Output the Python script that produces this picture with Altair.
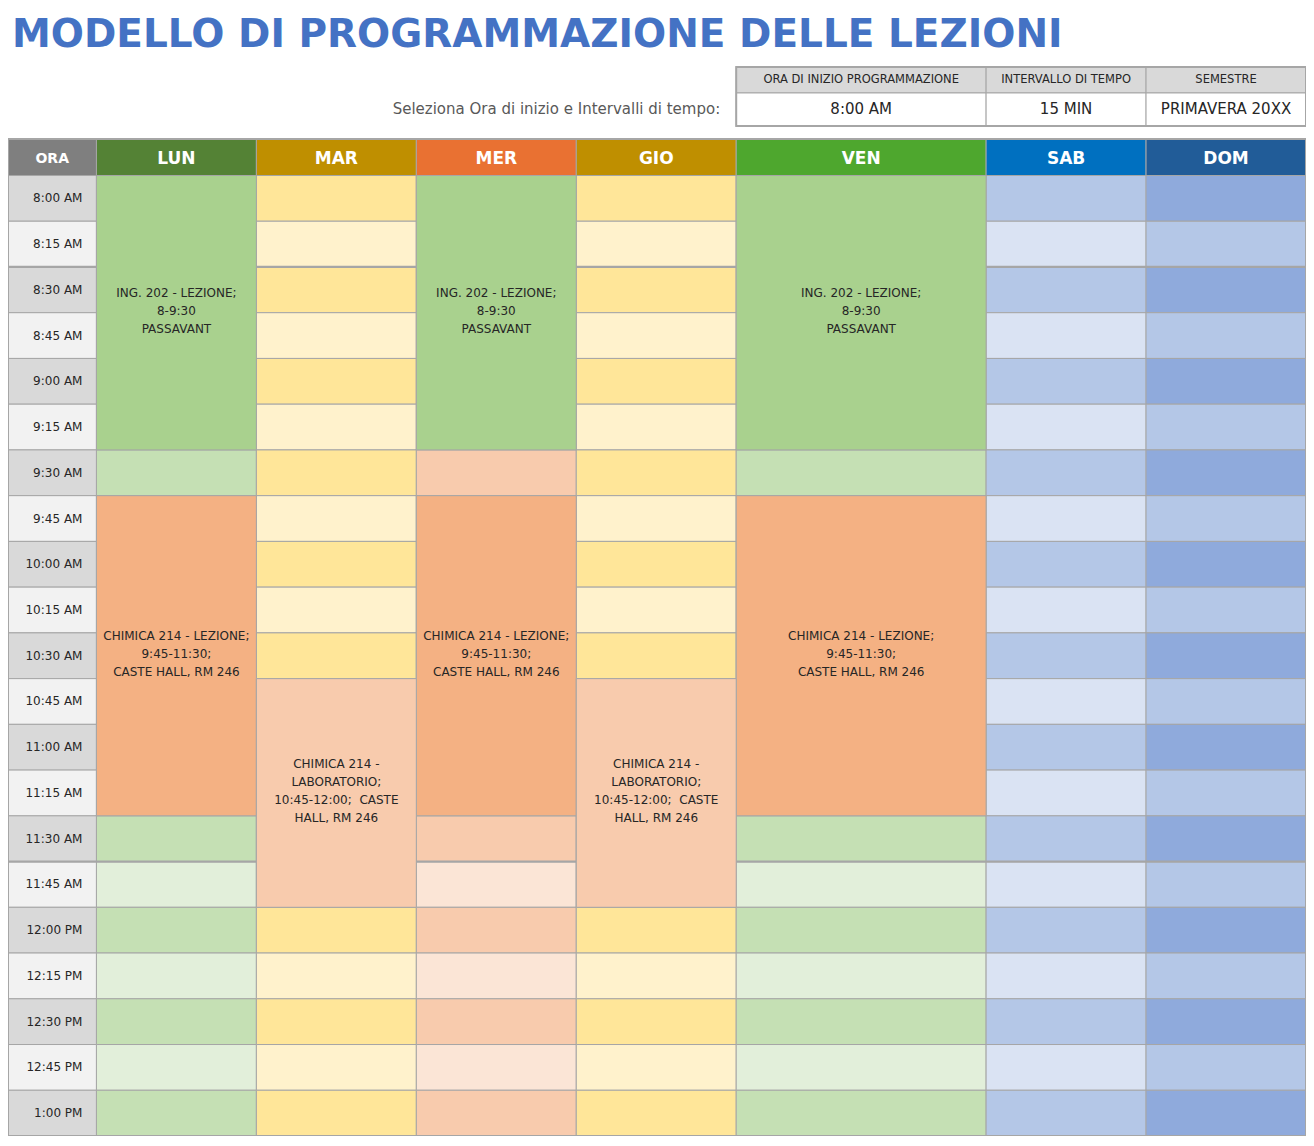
import altair as alt
import pandas as pd

# ---------------- data ----------------
TITLE = "MODELLO DI PROGRAMMAZIONE DELLE LEZIONI"
PROMPT = "Seleziona Ora di inizio e Intervalli di tempo:"
INFO_LABELS = ["ORA DI INIZIO PROGRAMMAZIONE", "INTERVALLO DI TEMPO", "SEMESTRE"]
INFO_VALUES = ["8:00 AM", "15 MIN", "PRIMAVERA 20XX"]

TIME_HEADER = "ORA"
DAYS = ["LUN", "MAR", "MER", "GIO", "VEN", "SAB", "DOM"]
TIMES = ["8:00 AM", "8:15 AM", "8:30 AM", "8:45 AM", "9:00 AM", "9:15 AM",
         "9:30 AM", "9:45 AM", "10:00 AM", "10:15 AM", "10:30 AM", "10:45 AM",
         "11:00 AM", "11:15 AM", "11:30 AM", "11:45 AM", "12:00 PM", "12:15 PM",
         "12:30 PM", "12:45 PM", "1:00 PM"]

EVENT_DAY = ["LUN", "MER", "VEN", "LUN", "MER", "VEN", "MAR", "GIO"]
EVENT_START = ["8:00 AM", "8:00 AM", "8:00 AM", "9:45 AM", "9:45 AM", "9:45 AM",
               "10:45 AM", "10:45 AM"]
EVENT_END = ["9:30 AM", "9:30 AM", "9:30 AM", "11:30 AM", "11:30 AM", "11:30 AM",
             "12:00 PM", "12:00 PM"]
EVENT_KIND = ["ing", "ing", "ing", "chem", "chem", "chem", "lab", "lab"]
ING_TEXT = "ING. 202 - LEZIONE;\n8-9:30\nPASSAVANT"
CHEM_TEXT = "CHIMICA 214 - LEZIONE;\n9:45-11:30;\nCASTE HALL, RM 246"
LAB_TEXT = "CHIMICA 214 -\nLABORATORIO;\n10:45-12:00;\u00a0 CASTE\nHALL, RM 246"
EVENT_TEXT = [ING_TEXT, ING_TEXT, ING_TEXT, CHEM_TEXT, CHEM_TEXT, CHEM_TEXT,
              LAB_TEXT, LAB_TEXT]

# ---------------- styles ----------------
HEADER_COLORS = {"ORA": "#7F7F7F", "LUN": "#548235", "MAR": "#BF8F00",
                 "MER": "#E97132", "GIO": "#BF8F00", "VEN": "#4EA72E",
                 "SAB": "#0070C0", "DOM": "#215C98"}
STRIPES = {"ORA": ("#D9D9D9", "#F2F2F2"), "LUN": ("#C5E0B4", "#E2EFDA"),
           "MAR": ("#FFE699", "#FFF2CC"), "MER": ("#F8CBAD", "#FBE5D6"),
           "GIO": ("#FFE699", "#FFF2CC"), "VEN": ("#C5E0B4", "#E2EFDA"),
           "SAB": ("#B4C7E7", "#DAE3F3"), "DOM": ("#8FAADC", "#B4C7E7")}
EVENT_COLORS = {"ing": "#A9D18E", "chem": "#F4B183", "lab": "#F8CBAD"}
GRID = "#A6A6A6"
TXT = "#262626"
FONT = "DejaVu Sans"
LINE_H = 18

# ---------------- layout (column widths in day-units, rows in slot-units) ----
COL_UNITS = {"ORA": 0.553, "LUN": 1, "MAR": 1, "MER": 1, "GIO": 1,
             "VEN": 1.5625, "SAB": 1, "DOM": 1}
COLS = [TIME_HEADER] + DAYS
edges = {}
acc = 0.0
for c in COLS:
    edges[c] = (acc, acc + COL_UNITS[c])
    acc += COL_UNITS[c]
X_MAX = acc
W, H = 1298, 1128
Y_MIN = -3.662
N = len(TIMES)
PX_X = W / X_MAX
PX_Y = H / (N - Y_MIN)
HEAD_TOP = -0.798
BOX_TOP, BOX_MID, BOX_BOT = -2.372, -1.804, -1.082
TITLE_Y = -2.80

XS = alt.Scale(domain=[0, X_MAX], nice=False, zero=False)
YS = alt.Scale(domain=[Y_MIN, N], reverse=True, nice=False, zero=False)


def enc_rect(ch):
    return ch.encode(
        x=alt.X("x0:Q", scale=XS, axis=None), x2="x1:Q",
        y=alt.Y("y0:Q", scale=YS, axis=None), y2="y1:Q",
        color=alt.Color("fill:N", scale=None))


def enc_text(ch):
    return ch.encode(
        x=alt.X("xc:Q", scale=XS, axis=None),
        y=alt.Y("yc:Q", scale=YS, axis=None),
        text="label:N")


# background cells
rows = []
for c in COLS:
    for i, t in enumerate(TIMES):
        rows.append({"x0": edges[c][0], "x1": edges[c][1], "y0": i, "y1": i + 1,
                     "fill": STRIPES[c][i % 2]})
bg = enc_rect(alt.Chart(pd.DataFrame(rows)).mark_rect(stroke=GRID, strokeWidth=1))

# thicker separators
sep_df = pd.DataFrame({"y0": [2, 15], "x0": [0, 0], "x1": [X_MAX, X_MAX]})
seps = alt.Chart(sep_df).mark_rule(color=GRID, strokeWidth=2.2).encode(
    x=alt.X("x0:Q", scale=XS, axis=None), x2="x1:Q",
    y=alt.Y("y0:Q", scale=YS, axis=None))

# events
ev = pd.DataFrame({"day": EVENT_DAY, "start": EVENT_START, "end": EVENT_END,
                   "kind": EVENT_KIND, "label": EVENT_TEXT})
ev["x0"] = ev["day"].map(lambda d: edges[d][0])
ev["x1"] = ev["day"].map(lambda d: edges[d][1])
ev["y0"] = ev["start"].map(TIMES.index)
ev["y1"] = ev["end"].map(TIMES.index)
ev["fill"] = ev["kind"].map(EVENT_COLORS)
ev["xc"] = (ev["x0"] + ev["x1"]) / 2
ev["nlines"] = ev["label"].map(lambda s: s.count("\n") + 1)
ev["yc"] = (ev["y0"] + ev["y1"]) / 2 - (ev["nlines"] - 1) / 2 * LINE_H / PX_Y - 2 / PX_Y
ev_rect = enc_rect(alt.Chart(ev).mark_rect(stroke=GRID, strokeWidth=1))
ev_text = enc_text(alt.Chart(ev).mark_text(
    font=FONT, fontSize=12, color=TXT, lineBreak="\n", lineHeight=LINE_H,
    align="center", baseline="middle"))

# header row
hd = pd.DataFrame({"label": COLS})
hd["x0"] = hd["label"].map(lambda c: edges[c][0])
hd["x1"] = hd["label"].map(lambda c: edges[c][1])
hd["y0"] = HEAD_TOP
hd["y1"] = 0
hd["fill"] = hd["label"].map(HEADER_COLORS)
hd["xc"] = (hd["x0"] + hd["x1"]) / 2
hd["yc"] = HEAD_TOP / 2 + 1.5 / PX_Y
hd["size"] = [14] + [17] * len(DAYS)
hd_rect = enc_rect(alt.Chart(hd).mark_rect(stroke=GRID, strokeWidth=1))
hd_text = alt.Chart(hd).mark_text(font=FONT, fontWeight="bold", color="white",
                                  align="center", baseline="middle").encode(
    x=alt.X("xc:Q", scale=XS, axis=None), y=alt.Y("yc:Q", scale=YS, axis=None),
    text="label:N", size=alt.Size("size:Q", scale=None))

# time labels
tl = pd.DataFrame({"label": TIMES})
tl["xc"] = edges["ORA"][1] - 14 / PX_X
tl["yc"] = [i + 0.5 for i in range(N)]
time_text = enc_text(alt.Chart(tl).mark_text(font=FONT, fontSize=12, color=TXT,
                                             align="right", baseline="middle"))

# outer frame of grid
frame = pd.DataFrame({"x0": [0], "x1": [X_MAX], "y0": [HEAD_TOP], "y1": [N]})
frame_rect = alt.Chart(frame).mark_rect(fillOpacity=0, stroke=GRID, strokeWidth=2).encode(
    x=alt.X("x0:Q", scale=XS, axis=None), x2="x1:Q",
    y=alt.Y("y0:Q", scale=YS, axis=None), y2="y1:Q")

# info box
box_cols = ["VEN", "SAB", "DOM"]
bx = []
for c, lab, val in zip(box_cols, INFO_LABELS, INFO_VALUES):
    x0, x1 = edges[c]
    bx.append({"x0": x0, "x1": x1, "y0": BOX_TOP, "y1": BOX_MID, "fill": "#D9D9D9",
               "label": lab, "xc": (x0 + x1) / 2, "yc": (BOX_TOP + BOX_MID) / 2,
               "kind": "lab"})
    bx.append({"x0": x0, "x1": x1, "y0": BOX_MID, "y1": BOX_BOT, "fill": "#FFFFFF",
               "label": val, "xc": (x0 + x1) / 2, "yc": (BOX_MID + BOX_BOT) / 2,
               "kind": "val"})
bx = pd.DataFrame(bx)
box_rect = enc_rect(alt.Chart(bx).mark_rect(stroke=GRID, strokeWidth=1))
box_lab = enc_text(alt.Chart(bx[bx.kind == "lab"]).mark_text(
    font=FONT, fontSize=11.5, color=TXT, align="center", baseline="middle"))
box_val = enc_text(alt.Chart(bx[bx.kind == "val"]).mark_text(
    font=FONT, fontSize=15, color=TXT, align="center", baseline="middle"))
box_frame = alt.Chart(pd.DataFrame({"x0": [edges["VEN"][0]], "x1": [edges["DOM"][1]],
                                    "y0": [BOX_TOP], "y1": [BOX_BOT]})).mark_rect(
    fillOpacity=0, stroke=GRID, strokeWidth=2).encode(
    x=alt.X("x0:Q", scale=XS, axis=None), x2="x1:Q",
    y=alt.Y("y0:Q", scale=YS, axis=None), y2="y1:Q")

pr = pd.DataFrame({"label": [PROMPT], "xc": [edges["VEN"][0] - 16 / PX_X],
                   "yc": [(BOX_MID + BOX_BOT) / 2]})
prompt_text = enc_text(alt.Chart(pr).mark_text(font=FONT, fontSize=15, color="#595959",
                                               align="right", baseline="middle"))

tt = pd.DataFrame({"label": [TITLE], "xc": [4 / PX_X], "yc": [TITLE_Y]})
title_text = enc_text(alt.Chart(tt).mark_text(font=FONT, fontSize=39, fontWeight="bold",
                                              color="#4472C4", align="left",
                                              baseline="alphabetic"))

chart = alt.layer(
    bg, seps, ev_rect, ev_text, hd_rect, hd_text, time_text, frame_rect,
    box_rect, box_frame, box_lab, box_val, prompt_text, title_text
).properties(
    width=W, height=H, padding=0,
    autosize=alt.AutoSizeParams(type="none")
).configure_view(strokeWidth=0)

chart.save("out.html", embed_options={"renderer": "svg", "actions": False})
